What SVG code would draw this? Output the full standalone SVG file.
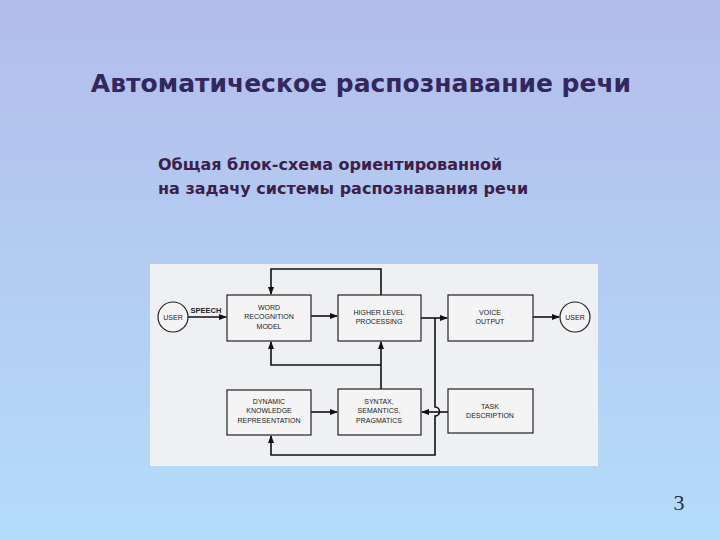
<svg xmlns="http://www.w3.org/2000/svg" width="720" height="540" viewBox="0 0 720 540">
<defs>
<linearGradient id="bg" x1="0" y1="0" x2="0" y2="1"><stop offset="0" stop-color="#b3bdea"/><stop offset="1" stop-color="#b4dcfa"/></linearGradient>
<marker id="a" markerWidth="8" markerHeight="6" refX="7" refY="3" orient="auto" markerUnits="userSpaceOnUse"><path d="M0,0L8,3L0,6z" fill="#111"/></marker>
<style>
.b{fill:#f4f4f4;stroke:#222;stroke-width:1.2}
.t{font-family:"Liberation Sans",Arial,sans-serif;font-size:7px;fill:#222;text-anchor:middle}
.c{fill:none;stroke:#111;stroke-width:1.6}
</style>
</defs>
<rect width="720" height="540" fill="url(#bg)"/>
<text x="361" y="92" font-family="Verdana,'DejaVu Sans',sans-serif" font-weight="bold" font-size="25" fill="#33285e" text-anchor="middle">Автоматическое распознавание речи</text>
<text x="158" y="170" font-family="Verdana,'DejaVu Sans',sans-serif" font-weight="bold" font-size="16" fill="#3d1f4a">Общая блок-схема ориентированной</text>
<text x="158" y="194" font-family="Verdana,'DejaVu Sans',sans-serif" font-weight="bold" font-size="16" fill="#3d1f4a">на задачу системы распознавания речи</text>
<text x="679" y="510" font-family="'Liberation Serif',serif" font-size="22" fill="#2a2a50" text-anchor="middle">3</text>
<rect x="150" y="264" width="448" height="202" fill="#eef0f3"/>
<g id="connectors">
<path class="c" d="M381,295V269H271V294" marker-end="url(#a)"/>
<path class="c" d="M381,389V342" marker-end="url(#a)"/>
<path class="c" d="M381,365H271V342" marker-end="url(#a)"/>
<path class="c" d="M188,317H226" marker-end="url(#a)"/>
<path class="c" d="M311,316H337" marker-end="url(#a)"/>
<path class="c" d="M421,318H447" marker-end="url(#a)"/>
<path class="c" d="M435,318V407A4,4 0 0 1 435,416V455H271V436" marker-end="url(#a)"/>
<path class="c" d="M448,412H422" marker-end="url(#a)"/>
<path class="c" d="M311,412H337" marker-end="url(#a)"/>
<path class="c" d="M533,317H559" marker-end="url(#a)"/>
</g>
<text x="206" y="313" class="t" font-weight="bold" style="font-size:7.5px">SPEECH</text>
<g id="user1"><circle cx="173" cy="317" r="15" class="b"/><text x="173" y="320" class="t">USER</text></g>
<g id="word"><rect x="227" y="295" width="84" height="46" class="b"/><text x="269" y="310" class="t">WORD</text><text x="269" y="319" class="t">RECOGNITION</text><text x="269" y="329" class="t">MODEL</text></g>
<g id="higher"><rect x="338" y="295" width="83" height="46" class="b"/><text x="379" y="315" class="t">HIGHER LEVEL</text><text x="379" y="324" class="t">PROCESSING</text></g>
<g id="voice"><rect x="448" y="295" width="85" height="46" class="b"/><text x="490" y="315" class="t">VOICE</text><text x="490" y="324" class="t">OUTPUT</text></g>
<g id="user2"><circle cx="575" cy="317" r="15" class="b"/><text x="575" y="320" class="t">USER</text></g>
<g id="dynamic"><rect x="227" y="390" width="84" height="45" class="b"/><text x="269" y="404" class="t">DYNAMIC</text><text x="269" y="413" class="t">KNOWLEDGE</text><text x="269" y="423" class="t">REPRESENTATION</text></g>
<g id="syntax"><rect x="338" y="389" width="83" height="46" class="b"/><text x="379" y="404" class="t">SYNTAX,</text><text x="379" y="413" class="t">SEMANTICS,</text><text x="379" y="423" class="t">PRAGMATICS</text></g>
<g id="task"><rect x="448" y="389" width="85" height="44" class="b"/><text x="490" y="409" class="t">TASK</text><text x="490" y="418" class="t">DESCRIPTION</text></g>
</svg>
